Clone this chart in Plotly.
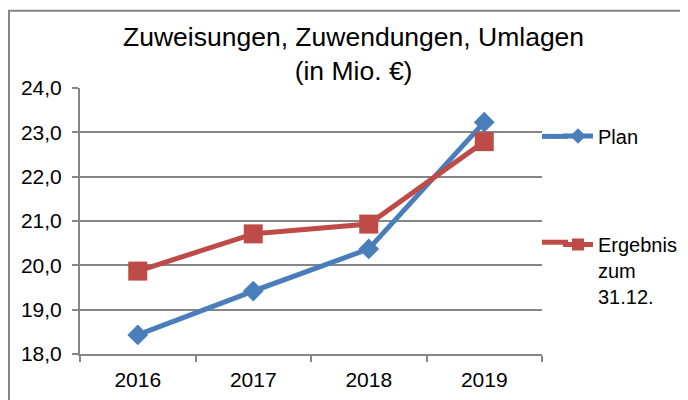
import plotly.graph_objects as go

years = ["2016", "2017", "2018", "2019"]
plan = [18.43, 19.42, 20.37, 23.23]
ergebnis = [19.87, 20.71, 20.93, 22.79]
title_lines = ["Zuweisungen, Zuwendungen, Umlagen", "(in Mio. €)"]

# page body has an 8px margin; work in figure coordinates (= screen - 8)
OFF = 8
W, H = 688 - OFF, 400 - OFF
L, R, T, B = 80 - OFF, 542 - OFF, 87.5 - OFF, 354 - OFF
pw, ph = R - L, B - T

def px_x(x):
    return (x - OFF - L) / pw

def px_y(y):
    return (B - (y - OFF)) / ph

def cx(x):
    return (x - OFF) / W

def cy(y):
    return 1 - (y - OFF) / H

font = "Liberation Sans, Arial, sans-serif"
blue = "#4A7EBB"
red = "#BE4B48"
grey = "#868686"

fig = go.Figure()
fig.add_trace(go.Scatter(
    x=years, y=plan, name="Plan", mode="lines+markers",
    line=dict(color=blue, width=5),
    marker=dict(symbol="diamond", size=16, color=blue),
    legend="legend",
))
fig.add_trace(go.Scatter(
    x=years, y=ergebnis, name="Ergebnis<br>zum<br>31.12.", mode="lines+markers",
    line=dict(color=red, width=5),
    marker=dict(symbol="square", size=19, color=red),
    legend="legend2",
))

fig.update_layout(
    width=W, height=H,
    margin=dict(l=L, r=W - R, t=T, b=H - B, pad=0, autoexpand=False),
    paper_bgcolor="white", plot_bgcolor="white",
    separators=",.",
    font=dict(family=font, size=21, color="black"),
    showlegend=True,
    legend=dict(xref="container", yref="container", x=cx(558), y=cy(136),
                xanchor="left", yanchor="middle", itemsizing="constant",
                bgcolor="rgba(0,0,0,0)", font=dict(size=20), itemwidth=30),
    legend2=dict(xref="container", yref="container", x=cx(558), y=cy(225),
                 xanchor="left", yanchor="top", valign="top", itemsizing="constant",
                 bgcolor="rgba(0,0,0,0)", font=dict(size=20), itemwidth=30),
    xaxis=dict(
        type="category", range=[-0.5, 3.5], showgrid=False, showline=True,
        linecolor=grey, linewidth=2,
        ticks="outside", tickson="boundaries", ticklen=6, tickcolor=grey, tickwidth=2,
        tickfont=dict(size=21), ticklabelstandoff=6, fixedrange=True,
    ),
    yaxis=dict(
        range=[18, 24], dtick=1, tickformat=".1f", showgrid=True, gridcolor=grey, gridwidth=2,
        showline=True, linecolor=grey, linewidth=2, ticks="outside", ticklen=6,
        tickcolor=grey, tickwidth=2, tickfont=dict(size=21), ticklabelstandoff=6,
        zeroline=False, fixedrange=True,
    ),
    annotations=[dict(
        text="<br>".join(title_lines), xref="paper", yref="paper",
        x=px_x(353), y=px_y(53), xanchor="center", yanchor="middle",
        showarrow=False, font=dict(size=26.5, family=font),
    )],
    shapes=[
        dict(type="rect", xref="paper", yref="paper",
             x0=px_x(9), x1=px_x(720), y0=px_y(430), y1=px_y(10),
             line=dict(color=grey, width=2), layer="below"),
        # lengthen the legend sample lines to match the original legend key
        dict(type="line", xref="paper", yref="paper",
             x0=px_x(542), x1=px_x(568), y0=px_y(136), y1=px_y(136),
             line=dict(color=blue, width=5)),
        dict(type="line", xref="paper", yref="paper",
             x0=px_x(542), x1=px_x(568), y0=px_y(242), y1=px_y(242),
             line=dict(color=red, width=5)),
    ],
)

fig.write_html("out.html")
